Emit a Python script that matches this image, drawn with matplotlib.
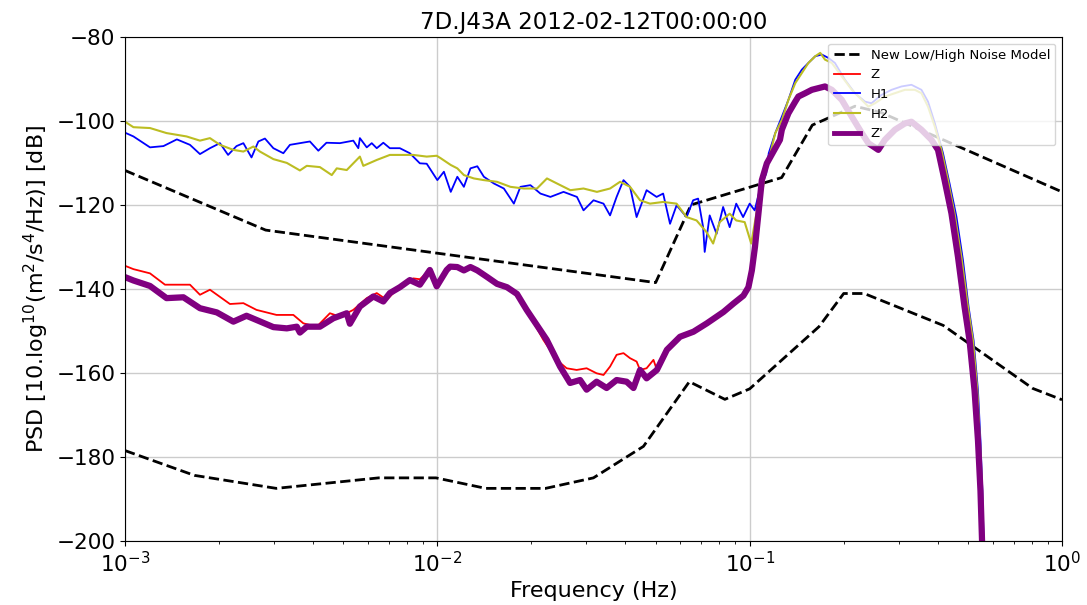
import matplotlib.pyplot as plt
import numpy as np

# Peterson noise models (Hz, dB)
nhnm_f = [0.001, 0.00282, 0.05, 0.0649, 0.1266, 0.1587, 0.2174, 0.2632, 1.0]
nhnm_db = [-111.8, -126.0, -138.5, -120.0, -113.5, -101.0, -96.5, -98.0, -116.9]
nlnm_f = [0.001, 0.001667, 0.00305, 0.00649, 0.0099, 0.01429, 0.0222, 0.0316, 0.0457,
          0.0641, 0.0833, 0.1, 0.1667, 0.2, 0.2326, 0.4167, 0.806, 1.0]
nlnm_db = [-178.5, -184.4, -187.5, -185.0, -185.0, -187.5, -187.5, -185.0, -177.5,
           -162.1, -166.3, -163.8, -149.0, -141.1, -141.1, -148.7, -163.7, -166.4]

# H1 (log10 frequency, dB)
h1_logf = [-3.0, -2.973, -2.920, -2.877, -2.834, -2.792, -2.760, -2.728, -2.696, -2.670,
           -2.643, -2.621, -2.595, -2.573, -2.552, -2.525, -2.493, -2.472, -2.440, -2.408,
           -2.381, -2.355, -2.312, -2.269, -2.253, -2.248, -2.226, -2.210, -2.194, -2.173,
           -2.152, -2.120, -2.088, -2.056, -2.034,
           -2.000, -1.979, -1.957, -1.936, -1.915, -1.894, -1.872, -1.851, -1.819, -1.787,
           -1.755, -1.734, -1.702, -1.670, -1.638, -1.596, -1.553, -1.532, -1.500, -1.468,
           -1.447, -1.426, -1.404, -1.383, -1.362, -1.330, -1.298, -1.277, -1.255, -1.234,
           -1.202, -1.181, -1.165, -1.149, -1.144, -1.128, -1.106, -1.085, -1.064, -1.043,
           -1.021, -1.000, -0.984, -0.968, -0.947,
           -0.939, -0.918, -0.897, -0.876, -0.854, -0.833, -0.812, -0.790, -0.769, -0.748,
           -0.727, -0.695, -0.663, -0.631, -0.610, -0.578, -0.546, -0.514, -0.482, -0.450,
           -0.429, -0.407, -0.381, -0.360, -0.338, -0.317, -0.299, -0.283, -0.269, -0.261,
           -0.255, -0.251]
h1_db = [-102.8, -103.7, -106.3, -106.0, -104.4, -105.7, -107.9, -106.5, -105.3, -108.1,
         -106.0, -105.3, -108.7, -104.9, -104.2, -106.5, -107.7, -105.7, -105.3, -104.9,
         -107.1, -105.2, -105.3, -104.7, -106.5, -104.1, -106.3, -105.3, -106.5, -105.2,
         -106.5, -106.5, -107.7, -110.1, -110.2,
         -114.1, -112.1, -116.9, -113.3, -115.7, -111.3, -110.8, -113.3, -114.9, -116.1,
         -119.7, -115.7, -115.3, -117.3, -118.1, -116.9, -118.1, -121.3, -118.9, -119.7,
         -122.5, -118.1, -114.1, -115.7, -122.9, -116.5, -118.1, -117.3, -124.5, -120.1,
         -122.9, -118.9, -118.5, -125.3, -131.2, -122.5, -126.9, -120.5, -125.3, -119.7,
         -122.9, -119.7, -121.3, -116.5, -112.5,
         -107.7, -102.9, -99.0, -95.0, -90.2, -87.8, -86.2, -84.6, -84.2, -85.0,
         -86.2, -90.2, -93.4, -95.4, -95.8, -93.8, -92.6, -91.8, -91.4, -92.6,
         -95.4, -100.6, -107.7, -114.9, -122.8, -133.2, -144.3, -152.3, -164.2, -176.1,
         -188.1, -200.0]

# H2
h2_logf = [-3.0, -2.973, -2.920, -2.867, -2.803, -2.760, -2.728, -2.696, -2.653, -2.621,
           -2.589, -2.568, -2.525, -2.482, -2.440, -2.418, -2.376, -2.338, -2.322, -2.290,
           -2.248, -2.237, -2.194, -2.152, -2.120, -2.077, -2.034, -2.002,
           -1.989, -1.957, -1.936, -1.915, -1.883, -1.851, -1.809, -1.766, -1.723, -1.681,
           -1.649, -1.617, -1.574, -1.532, -1.489, -1.447, -1.415, -1.383, -1.351, -1.319,
           -1.277, -1.234, -1.202, -1.170, -1.138, -1.117, -1.096, -1.064, -1.043, -1.016,
           -0.995, -0.973, -0.957,
           -0.950, -0.934, -0.918, -0.897, -0.876, -0.854, -0.833, -0.812, -0.790, -0.774,
           -0.759, -0.737, -0.705, -0.673, -0.641, -0.620, -0.599, -0.567, -0.535, -0.503,
           -0.471, -0.450, -0.429, -0.407, -0.386, -0.365, -0.344, -0.322, -0.301, -0.285,
           -0.271, -0.263, -0.256, -0.252]
h2_db = [-100.2, -101.5, -101.7, -102.9, -103.7, -104.7, -104.1, -105.7, -106.9, -107.3,
         -106.1, -107.3, -109.1, -110.0, -111.8, -110.7, -111.0, -112.9, -111.3, -111.7,
         -108.5, -110.7, -109.3, -108.1, -108.1, -108.1, -108.5, -108.3,
         -108.9, -110.5, -111.3, -112.9, -113.7, -114.1, -114.5, -115.7, -116.1, -116.1,
         -113.7, -114.9, -116.5, -116.1, -116.9, -116.1, -114.5, -115.7, -118.9, -119.7,
         -119.3, -119.7, -122.9, -123.7, -126.5, -129.2, -124.1, -122.1, -123.7, -124.1,
         -129.2, -119.7, -115.7,
         -110.9, -107.7, -102.9, -99.8, -95.0, -91.0, -88.6, -86.2, -84.6, -83.8,
         -85.4, -86.2, -89.4, -92.6, -95.0, -96.6, -95.8, -94.2, -93.4, -92.6,
         -92.6, -93.4, -96.6, -101.4, -106.9, -114.1, -122.1, -132.4, -144.3, -152.3,
         -164.2, -176.1, -188.1, -200.0]

# Z' (rotated vertical)
zp_logf = [-3.0, -2.973, -2.920, -2.867, -2.813, -2.760, -2.706, -2.653, -2.611, -2.579,
           -2.525, -2.482, -2.450, -2.440, -2.418, -2.376, -2.333, -2.290, -2.280, -2.248,
           -2.205, -2.173, -2.152, -2.120, -2.088, -2.056, -2.024, -2.002, -1.970, -1.959,
           -1.936, -1.915, -1.894, -1.872, -1.840, -1.809, -1.777, -1.745, -1.714, -1.650,
           -1.607, -1.575, -1.543, -1.522, -1.490, -1.458, -1.426, -1.394, -1.372, -1.351,
           -1.330, -1.297, -1.265, -1.223, -1.180, -1.137, -1.084, -1.052, -1.020, -1.004,
           -0.993, -0.983, -0.972, -0.961, -0.945, -0.924, -0.903,
           -0.897, -0.876, -0.854, -0.844, -0.822, -0.801, -0.780, -0.759, -0.737, -0.705,
           -0.673, -0.641, -0.620, -0.588, -0.567, -0.535, -0.503, -0.482, -0.450, -0.418,
           -0.397, -0.376, -0.354, -0.333, -0.312, -0.296, -0.280, -0.269, -0.261, -0.256]
zp_db = [-137.2, -138.0, -139.3, -142.2, -142.0, -144.6, -145.6, -147.8, -146.4, -147.4,
         -149.1, -149.4, -149.0, -150.4, -149.0, -149.0, -147.0, -145.8, -148.3, -144.2,
         -141.8, -143.0, -141.0, -139.6, -137.9, -139.0, -135.5, -139.4, -135.5, -134.7,
         -134.8, -135.6, -134.8, -135.6, -137.2, -138.8, -139.6, -141.2, -145.0, -152.1,
         -158.5, -162.4, -161.7, -164.0, -162.1, -163.6, -161.7, -162.1, -163.6, -159.3,
         -161.3, -159.3, -154.5, -151.4, -150.2, -148.2, -145.5, -143.5, -141.6, -139.6,
         -135.6, -130.0, -122.1, -114.1, -110.1, -107.3, -104.5,
         -102.1, -98.2, -95.4, -94.2, -93.4, -92.6, -92.2, -91.8, -92.6, -95.0,
         -99.0, -102.9, -105.3, -106.9, -104.5, -102.1, -100.6, -100.2, -102.1, -104.5,
         -106.9, -114.1, -122.0, -132.4, -144.3, -152.3, -164.2, -176.1, -188.1, -200.0]

# Z where it departs from Z'
z_low_logf = [-3.0, -2.973, -2.920, -2.872, -2.792, -2.760, -2.728, -2.664, -2.621, -2.579,
              -2.515, -2.461, -2.429, -2.386, -2.344, -2.312, -2.269, -2.226, -2.194, -2.162,
              -2.120, -2.077, -2.056]
z_low_db = [-134.5, -135.3, -136.3, -139.0, -139.0, -141.4, -140.2, -143.6, -143.4, -145.0,
            -146.2, -146.2, -148.2, -149.0, -145.8, -146.6, -145.0, -142.2, -141.0, -142.6,
            -139.4, -137.5, -137.7]
z_mid_logf = [-1.661, -1.618, -1.586, -1.554, -1.522, -1.490, -1.468, -1.447, -1.426, -1.404,
              -1.383, -1.362, -1.351, -1.330, -1.308]
z_mid_db = [-152.1, -156.9, -158.9, -159.3, -158.9, -160.1, -160.5, -158.5, -155.7, -155.3,
            -156.5, -157.3, -159.3, -158.9, -156.9]

zp_lf = np.array(zp_logf)
zp_v = np.array(zp_db)
m1 = (zp_lf > -2.05) & (zp_lf < -1.67)
m2 = zp_lf > -1.30
z_logf = np.concatenate([z_low_logf, zp_lf[m1], z_mid_logf, zp_lf[m2]])
z_db = np.concatenate([z_low_db, zp_v[m1], z_mid_db, zp_v[m2]])

fig, ax = plt.subplots(figsize=(10.87, 6.05), dpi=100)
fig.subplots_adjust(left=0.115, right=0.977, top=0.939, bottom=0.106)

ax.plot(nhnm_f, nhnm_db, '--', color='black', lw=2, label='New Low/High Noise Model')
ax.plot(nlnm_f, nlnm_db, '--', color='black', lw=2)
ax.plot(10 ** z_logf, z_db, color='red', lw=1.3, label='Z')
ax.plot(10 ** np.array(h1_logf), h1_db, color='blue', lw=1.3, label='H1')
ax.plot(10 ** np.array(h2_logf), h2_db, color='#bcbd22', lw=1.5, label='H2')
ax.plot(10 ** zp_lf, zp_v, color='purple', lw=4.5, label="Z'")

ax.set_xscale('log')
ax.set_xlim(1e-3, 1)
ax.set_ylim(-200, -80)
ax.set_yticks(np.arange(-200, -79, 20))
ax.grid(True, which='major', color='#cccccc', lw=1)
ax.tick_params(labelsize=15.5)
ax.set_xlabel('Frequency (Hz)', fontsize=16)
ax.set_ylabel(r'PSD [10.log$^{10}$(m$^2$/s$^4$/Hz)] [dB]', fontsize=16)
ax.set_title('7D.J43A 2012-02-12T00:00:00', fontsize=16.5)
leg = ax.legend(loc='upper right', fontsize=9.5)
leg.legend_handles[-1].set_linewidth(3.5)

fig.savefig('out.png', dpi=100)
